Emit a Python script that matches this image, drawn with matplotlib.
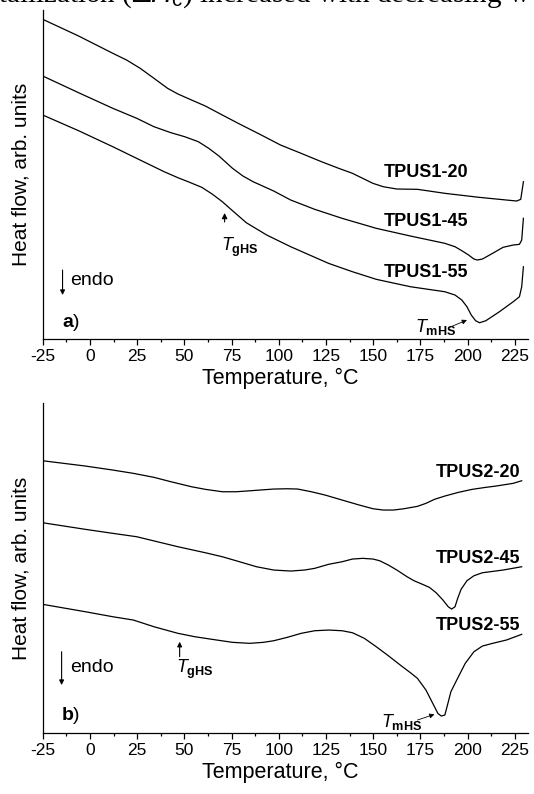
import numpy as np
from matplotlib import pyplot as plt
from matplotlib.ticker import MultipleLocator

# panel a) - DSC traces, temperature in deg C, heat flow in arb. units
temp_s1_20 = [-25, -6.0, 12.1, 19.4, 26.6, 33.9, 41.1, 46.6, 53.8, 61.1, 70.1, 79.2,
              90.0, 100.9, 111.8, 122.6, 131.7, 139.0, 144.4, 149.8, 155.3, 162.5,
              173.4, 187.9, 206.0, 220.5, 225.9, 228.1, 229.5]
flow_s1_20 = [319.7, 303, 285.7, 279, 270.7, 260.7, 250.7, 245, 239, 233, 224, 215,
              204.7, 194, 185.7, 177.3, 170.7, 165.7, 160.7, 155.7, 152.3, 150,
              149.7, 145.7, 141.7, 139, 138, 139.7, 157.3]

temp_s1_45 = [-25, -6.0, 12.1, 24.8, 33.9, 42.9, 50.2, 57.4, 62.9, 68.3, 75.5, 81.0,
              86.4, 97.3, 106.3, 119.0, 133.5, 151.6, 169.7, 187.9, 193.3, 196.9,
              200.5, 203.3, 205.1, 207.8, 213.2, 218.7, 224.1, 227.4, 228.6, 229.5]
flow_s1_45 = [263, 246.3, 230.7, 220.7, 212.3, 206.3, 202.3, 197.3, 190.7, 183, 170.7, 163,
              157.3, 148, 139, 129.7, 120.7, 110.7, 103, 95.7, 92.3, 88.3,
              84, 80, 79, 80, 85.7, 91.7, 94, 94.7, 99, 120.7]

temp_s1_55 = [-25, -6.0, 12.1, 28.4, 39.3, 46.6, 52.0, 59.2, 64.7, 70.1, 75.5, 82.8,
              93.6, 106.3, 126.3, 139.0, 151.6, 169.7, 187.9, 193.3, 196.9, 199.6,
              201.9, 204.2, 206.3, 209.6, 216.8, 224.1, 227.4, 228.6, 229.5]
flow_s1_55 = [224, 208.3, 192.3, 177.3, 167.3, 161.3, 157.3, 151.7, 145, 137.3, 128.3, 116.3,
              104, 92.3, 75.7, 67.3, 59.7, 52.3, 47.3, 44, 39, 32.3,
              24, 18.3, 16.3, 18.3, 27.3, 37.3, 42.3, 52.3, 72.3]

# panel b)
temp_s2_20 = [-25, -2.4, 12.1, 23.0, 33.9, 42.9, 53.8, 61.1, 70.1, 77.4, 82.8, 90.0,
              97.3, 104.5, 110.0, 117.2, 124.5, 133.5, 142.6, 149.9, 155.3, 160.7,
              166.2, 173.4, 177.9, 182.4, 187.9, 195.1, 202.4, 209.6, 215.0, 224.1, 228.6]
flow_s2_20 = [272.6, 267.3, 263.3, 260, 256, 251.6, 246.6, 244, 241.6, 241.6, 242.3, 243.3,
              244.3, 244.6, 244.3, 241.6, 238.3, 233.3, 228.3, 224.6, 223.3, 223.3,
              224.6, 227, 230, 234, 237.3, 241, 244, 246, 247.3, 250, 252.6]

temp_s2_45 = [-25, -2.4, 12.1, 24.8, 35.7, 46.6, 61.1, 70.1, 79.2, 88.2, 97.3, 106.3,
              113.6, 119.0, 126.3, 133.5, 139.0, 144.4, 149.9, 153.4, 158.0, 162.5,
              167.9, 171.6, 176.1, 179.7, 183.3, 186.9, 189.7, 191.5, 193.3, 194.7,
              196.5, 199.6, 203.3, 207.8, 218.7, 228.6]
flow_s2_45 = [210.6, 204, 200, 196.6, 191.6, 186.6, 180.6, 176.6, 171.6, 166.6, 163.3, 162.3,
              163.3, 165, 169, 171.6, 174.3, 175, 174.3, 172.6, 168.3, 163.3,
              156.6, 152.6, 149, 146, 140.6, 133.3, 126.6, 124.3, 126.6, 135,
              144, 152.6, 157.6, 160.6, 163.3, 166.6]

temp_s2_55 = [-25, -2.4, 12.1, 23.0, 33.9, 46.6, 55.6, 64.7, 75.5, 84.6, 91.8, 97.3,
              104.5, 111.8, 119.0, 126.3, 133.5, 139.0, 145.3, 151.6, 158.0, 164.3,
              169.7, 173.4, 177.9, 181.5, 184.2, 186.0, 187.9, 189.3, 191.1, 194.2,
              198.7, 203.3, 207.8, 213.2, 220.5, 228.6]
flow_s2_55 = [129, 121.6, 116.6, 113.3, 106.6, 100, 96.6, 94, 91, 90, 91, 92.6,
              96, 100, 102.6, 103.3, 102.6, 100.6, 95, 86.6, 77.6, 68.3,
              60.6, 55, 43.3, 30, 20, 17.3, 18.3, 28.3, 41.6, 53.3,
              70, 81.6, 87.3, 90, 93.3, 99]

labels_a = ['TPUS1-20', 'TPUS1-45', 'TPUS1-55']
labels_b = ['TPUS2-20', 'TPUS2-45', 'TPUS2-55']
xticks = np.arange(-25, 226, 25)

plt.rcParams['font.family'] = ['Liberation Sans', 'DejaVu Sans']
plt.rcParams['axes.unicode_minus'] = False
plt.rcParams['mathtext.fontset'] = 'custom'
plt.rcParams['mathtext.rm'] = 'Liberation Sans'
plt.rcParams['mathtext.it'] = 'Liberation Sans:italic'
plt.rcParams['mathtext.bf'] = 'Liberation Sans:bold'


def style_axes(ax, ylim):
    ax.set_xlim(-25, 232)
    ax.set_ylim(0, ylim)
    ax.spines['top'].set_visible(False)
    ax.spines['right'].set_visible(False)
    for s in ('left', 'bottom'):
        ax.spines[s].set_linewidth(0.9)
    ax.set_yticks([])
    ax.set_xticks(xticks)
    ax.set_xticklabels([str(t) for t in xticks])
    ax.xaxis.set_minor_locator(MultipleLocator(12.5))
    ax.tick_params(axis='x', which='major', direction='out', length=4, width=0.9,
                   labelsize=12.5, pad=3)
    ax.tick_params(axis='x', which='minor', direction='out', length=2.5, width=0.9)
    ax.set_xlabel('Temperature, °C', fontsize=15.5)
    ax.xaxis.set_label_coords(0.49, -0.087)
    ax.set_ylabel('Heat flow, arb. units', fontsize=15)
    ax.yaxis.set_label_coords(-0.044, 0.5)
    ax.yaxis.label.set_verticalalignment('center')


def arrow(ax, tail, head, scale=7, lw=0.8):
    ax.annotate('', xy=head, xytext=tail,
                arrowprops=dict(arrowstyle='-|>', mutation_scale=scale, lw=lw,
                                color='black', shrinkA=0, shrinkB=0))


def main():
    fig = plt.figure(figsize=(5.34, 7.94), dpi=100)
    ax1 = fig.add_axes([0.080, 0.573, 0.909, 0.4144])
    ax2 = fig.add_axes([0.080, 0.0764, 0.909, 0.4156])

    # cut-off caption line from the page above the figure
    fig.text(-0.004, 1 - 2.0 / 794, r'tallization ($\Delta H_{\rm c}$) increased with decreasing w',
             family='Liberation Serif', fontsize=21, va='baseline', ha='left')

    # panel a
    for t, f in [(temp_s1_20, flow_s1_20), (temp_s1_45, flow_s1_45), (temp_s1_55, flow_s1_55)]:
        ax1.plot(t, f, color='black', lw=0.9)
    style_axes(ax1, 329)
    for lab, h in zip(labels_a, [162.3, 113, 62.3]):
        ax1.text(200.3, h, lab, ha='right', va='baseline', fontsize=13, fontweight='bold')
    arrow(ax1, (71.3, 117), (71.3, 126), scale=8)
    ax1.text(69.2, 88.3, r'$\mathit{T}_{\mathbf{gHS}}$', fontsize=13, va='baseline')
    ax1.text(172.2, 7.3, r'$\mathit{T}_{\mathbf{mHS}}$', fontsize=13, va='baseline')
    arrow(ax1, (190.4, 11.7), (199.6, 19), scale=7, lw=0.6)
    arrow(ax1, (-14.5, 69), (-14.5, 44))
    ax1.text(-10.5, 54, 'endo', fontsize=14, va='baseline')
    ax1.text(-15, 12.3, r'$\mathbf{a}$)', fontsize=14, va='baseline')

    # panel b
    for t, f in [(temp_s2_20, flow_s2_20), (temp_s2_45, flow_s2_45), (temp_s2_55, flow_s2_55)]:
        ax2.plot(t, f, color='black', lw=0.9)
    style_axes(ax2, 330)
    for lab, h in zip(labels_b, [256, 170, 103.3]):
        ax2.text(227.9, h, lab, ha='right', va='baseline', fontsize=13, fontweight='bold')
    arrow(ax2, (47.5, 76.6), (47.5, 91.6))
    ax2.text(45.6, 60, r'$\mathit{T}_{\mathbf{gHS}}$', fontsize=13, va='baseline')
    ax2.text(154.3, 6, r'$\mathit{T}_{\mathbf{mHS}}$', fontsize=13, va='baseline')
    arrow(ax2, (173.4, 13.3), (182.4, 19), scale=7, lw=0.6)
    arrow(ax2, (-15, 81.6), (-15, 48.3))
    ax2.text(-10.5, 61.6, 'endo', fontsize=14, va='baseline')
    ax2.text(-15.4, 13.3, r'$\mathbf{b}$)', fontsize=14, va='baseline')

    fig.savefig('out.png', dpi=100)


if __name__ == "__main__":
    main()
